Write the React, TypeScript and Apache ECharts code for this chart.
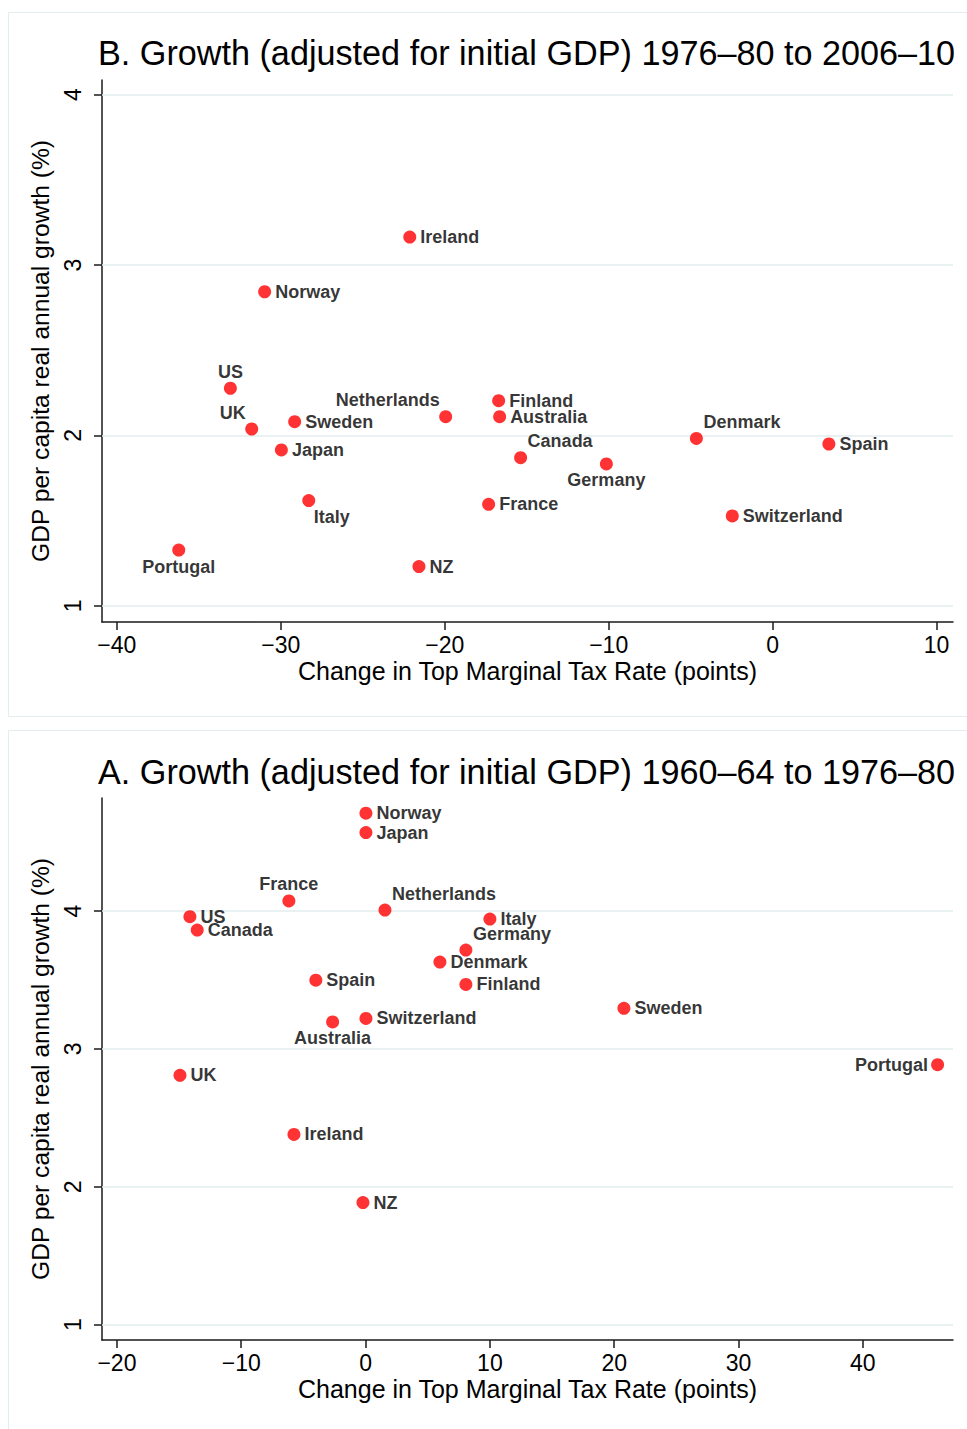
import React, { useEffect, useRef } from "react";
import * as echarts from "echarts";

// ---------- Panel B: 1976–80 to 2006–10 ----------
const countriesB = ["Ireland", "Norway", "US", "UK", "Sweden", "Japan", "Italy", "Portugal", "NZ", "Netherlands", "Finland", "Australia", "Canada", "Germany", "France", "Denmark", "Spain", "Switzerland"];
const taxChangeB = [-22.13, -30.98, -33.07, -31.77, -29.15, -29.96, -28.29, -36.22, -21.57, -19.94, -16.71, -16.65, -15.37, -10.14, -17.32, -4.65, 3.43, -2.46];
const growthB = [3.164, 2.843, 2.277, 2.038, 2.081, 1.915, 1.618, 1.328, 1.231, 2.110, 2.204, 2.110, 1.870, 1.833, 1.596, 1.983, 1.950, 1.528];
const labelPlacementB = ["right", "right", "top", "topLeft", "right", "right", "bottomRight", "bottom", "right", "topLeft", "right", "right", "topRight", "bottom", "right", "topRight", "right", "right"];

// ---------- Panel A: 1960–64 to 1976–80 ----------
const countriesA = ["Norway", "Japan", "France", "Netherlands", "US", "Canada", "Italy", "Germany", "Denmark", "Finland", "Spain", "Switzerland", "Australia", "Sweden", "UK", "Portugal", "Ireland", "NZ"];
const taxChangeA = [0.03, 0.03, -6.17, 1.56, -14.13, -13.54, 10.0, 8.07, 5.98, 8.07, -4.0, 0.03, -2.65, 20.78, -14.93, 46.01, -5.76, -0.21];
const growthA = [4.710, 4.569, 4.073, 4.007, 3.959, 3.862, 3.942, 3.717, 3.630, 3.468, 3.499, 3.221, 3.196, 3.295, 2.809, 2.886, 2.380, 1.886];
const labelPlacementA = ["right", "right", "top", "topRight", "right", "right", "right", "topRight", "right", "right", "right", "right", "bottom", "right", "right", "left", "right", "right"];

// ---------- Axes ----------
const xTicksB = [-40, -30, -20, -10, 0, 10];
const xTicksA = [-20, -10, 0, 10, 20, 30, 40];
const yTicks = [1, 2, 3, 4];

const titleB = "B. Growth (adjusted for initial GDP) 1976\u201380 to 2006\u201310";
const titleA = "A. Growth (adjusted for initial GDP) 1960\u201364 to 1976\u201380";
const xAxisTitle = "Change in Top Marginal Tax Rate (points)";
const yAxisTitle = "GDP per capita real annual growth (%)";

const FONT = "'Liberation Sans', Arial, Helvetica, sans-serif";
const GRID_COLOR = "#e3ecee";
const AXIS_COLOR = "#1a1a1a";

function labelFor(p: string) {
  const base = { show: true, formatter: "{b}", color: "#000", fontFamily: FONT, fontSize: 18, lineHeight: 13, fontWeight: "bold" as const };
  switch (p) {
    case "left":
      return { ...base, position: "left", distance: 3 };
    case "top":
      return { ...base, position: "top", distance: 3.5 };
    case "bottom":
      return { ...base, position: "bottom", distance: 3.5 };
    case "topLeft":
      return { ...base, position: "top", distance: 3.5, align: "right", padding: [0, 6, 0, 0] };
    case "topRight":
      return { ...base, position: "top", distance: 3.5, align: "left", padding: [0, 0, 0, 7] };
    case "bottomRight":
      return { ...base, position: "bottom", distance: 3.5, align: "left", padding: [0, 0, 0, 5] };
    default:
      return { ...base, position: "right", distance: 4 };
  }
}

function buildData(names: string[], xs: number[], ys: number[], places: string[]) {
  return names.map((n, i) => ({ name: n, value: [xs[i], ys[i]], label: labelFor(places[i]) }));
}

const minusFmt = (v: number) => (v < 0 ? "\u2212" + Math.abs(v) : String(v));

function xAxisCfg(gridIndex: number, min: number, max: number, ticks: number[]) {
  return {
    type: "value",
    gridIndex,
    min,
    max,
    name: xAxisTitle,
    nameLocation: "middle",
    nameGap: 36,
    nameTextStyle: { fontFamily: FONT, fontSize: 25, color: "#000" },
    axisLine: { show: true, onZero: false, lineStyle: { color: AXIS_COLOR, width: 1.5 } },
    axisTick: { show: true, length: 8, customValues: ticks, lineStyle: { color: AXIS_COLOR, width: 1.5 } },
    axisLabel: { customValues: ticks, formatter: minusFmt, margin: 11, fontFamily: FONT, fontSize: 23, color: "#000" },
    splitLine: { show: false },
  };
}

function yAxisCfg(gridIndex: number, min: number, max: number) {
  return {
    type: "value",
    gridIndex,
    min,
    max,
    name: yAxisTitle,
    nameLocation: "middle",
    nameGap: 34,
    nameRotate: 90,
    nameTextStyle: { fontFamily: FONT, fontSize: 24.6, color: "#000" },
    axisLine: { show: true, onZero: false, lineStyle: { color: AXIS_COLOR, width: 1.5 } },
    axisTick: { show: true, length: 8, customValues: yTicks, lineStyle: { color: AXIS_COLOR, width: 1.5 } },
    axisLabel: { customValues: yTicks, rotate: 90, margin: 18, fontFamily: FONT, fontSize: 23, color: "#000" },
    splitLine: { show: false },
  };
}

function scatterSeries(idx: number, data: any[]) {
  return {
    type: "scatter",
    xAxisIndex: idx,
    yAxisIndex: idx,
    symbol: "circle",
    symbolSize: 13,
    itemStyle: { color: "#ff0000" },
    data,
    z: 3,
    markLine: {
      silent: true,
      z: 1,
      symbol: "none",
      label: { show: false },
      lineStyle: { color: GRID_COLOR, width: 1.5, type: "solid" },
      data: yTicks.map((v) => ({ yAxis: v })),
    },
  };
}

export default function App() {
  const ref = useRef<HTMLDivElement>(null);
  useEffect(() => {
    if (!ref.current) return;
    const chart = echarts.init(ref.current, undefined, { renderer: "svg" });
    chart.setOption({
      animation: false,
      backgroundColor: "#ffffff",
      title: [
        { text: titleB, left: 98, top: 36, padding: 0, textStyle: { fontFamily: FONT, fontSize: 34.2, fontWeight: "normal", color: "#000" } },
        { text: titleA, left: 98, top: 755, padding: 0, textStyle: { fontFamily: FONT, fontSize: 34.2, fontWeight: "normal", color: "#000" } },
      ],
      graphic: [
        { type: "rect", shape: { x: 8.5, y: 12.5, width: 975, height: 704 }, style: { fill: "none", stroke: GRID_COLOR, lineWidth: 1 }, silent: true },
        { type: "rect", shape: { x: 8.5, y: 730.5, width: 975, height: 710 }, style: { fill: "none", stroke: GRID_COLOR, lineWidth: 1 }, silent: true },
      ],
      grid: [
        { left: 102, top: 80, width: 851, height: 542, containLabel: false },
        { left: 102, top: 798, width: 851, height: 542, containLabel: false },
      ],
      xAxis: [xAxisCfg(0, -40.9, 11.0, xTicksB), xAxisCfg(1, -21.2, 47.25, xTicksA)],
      yAxis: [yAxisCfg(0, 0.906, 4.085), yAxisCfg(1, 0.889, 4.82)],
      series: [
        scatterSeries(0, buildData(countriesB, taxChangeB, growthB, labelPlacementB)),
        scatterSeries(1, buildData(countriesA, taxChangeA, growthA, labelPlacementA)),
      ],
    });
    return () => chart.dispose();
  }, []);
  return <div ref={ref} style={{ position: "absolute", left: 0, top: 0, width: 967, height: 1429 }} />;
}
